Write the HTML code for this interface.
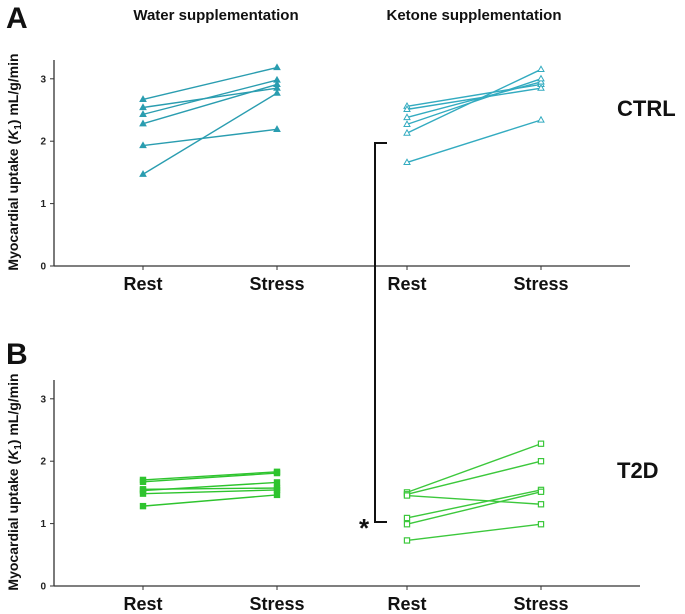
<!DOCTYPE html>
<html><head><meta charset="utf-8"><style>
body{margin:0;background:#fff}
svg{font-family:"Liberation Sans",Arial,sans-serif;display:block}
</style></head><body>
<svg id="c" width="685" height="614"></svg>
<script>
const cats=["Rest","Stress"];
const yTicks=[0,1,2,3];
const ctrlWaterRest=[2.67,2.54,2.43,2.28,1.93,1.47];
const ctrlWaterStress=[3.18,2.85,2.98,2.91,2.19,2.77];
const ctrlKetoneRest=[2.56,2.51,2.38,2.27,2.13,1.66];
const ctrlKetoneStress=[2.91,2.85,2.95,3.00,3.15,2.34];
const t2dWaterRest=[1.70,1.67,1.55,1.53,1.48,1.28];
const t2dWaterStress=[1.83,1.81,1.57,1.66,1.54,1.46];
const t2dKetoneRest=[1.50,1.47,1.45,1.09,0.99,0.73];
const t2dKetoneStress=[2.28,2.00,1.31,1.54,1.51,0.99];

const NS="http://www.w3.org/2000/svg";
const svg=document.getElementById('c');
function mk(t,a,txt){const e=document.createElementNS(NS,t);for(const k in a)e.setAttribute(k,a[k]);if(txt!=null)e.textContent=txt;svg.appendChild(e);return e;}
const xPos={wRest:143,wStress:277,kRest:407,kStress:541};
function yTop(v){return 266-v*62.4;}
function yBot(v){return 586-v*62.4;}

function panel(ys,axTop,axRight,label,lx,ly,titleC){
  let e=mk('line',{x1:54,y1:axTop,x2:54,y2:ys(0),stroke:'#333','stroke-width':1.3});
  
  e=mk('line',{x1:54,y1:ys(0),x2:axRight,y2:ys(0),stroke:'#333','stroke-width':1.3});
  
  yTicks.forEach(t=>{
    e=mk('line',{x1:50,y1:ys(t),x2:54,y2:ys(t),stroke:'#333'});
    
    e=mk('text',{x:46,y:ys(t)+3.5,'text-anchor':'end','font-size':10,'font-weight':'bold',fill:'#222'},t);
    
  });
  [xPos.wRest,xPos.wStress,xPos.kRest,xPos.kStress].forEach((x,i)=>{
    e=mk('line',{x1:x,y1:ys(0),x2:x,y2:ys(0)+4,stroke:'#333'});
    
    e=mk('text',{x:x,y:ys(0)+24,'text-anchor':'middle','font-size':18,'font-weight':'bold',fill:'#111'},cats[i%2]);
    
  });
  e=mk('text',{x:0,y:0,transform:`translate(18,${titleC}) rotate(-90)`,'text-anchor':'middle','font-size':14,'font-weight':'bold',fill:'#111'});
  
  e.innerHTML='Myocardial uptake (<tspan font-style="italic">K</tspan><tspan font-size="10" dy="3">1</tspan><tspan dy="-3">) mL/g/min</tspan>';
  e=mk('text',{x:lx,y:ly,'font-size':22,'font-weight':'bold',fill:'#111'},label);
  
}
function series(ys,rest,stress,x1,x2,color,marker,filled,name){
  rest.forEach((r,i)=>{
    let e=mk('line',{x1:x1,y1:ys(r),x2:x2,y2:ys(stress[i]),stroke:color,'stroke-width':1.4});
    
    [[x1,r],[x2,stress[i]]].forEach(p=>{
      const y=ys(p[1]);
      let m;
      if(marker==='tri') m=mk('polygon',{points:`${p[0]},${y-3.2} ${p[0]-3},${y+2.1} ${p[0]+3},${y+2.1}`,fill:filled?color:'#fff',stroke:color,'stroke-width':1});
      else m=mk('rect',{x:p[0]-2.6,y:y-2.6,width:5.2,height:5.2,fill:filled?color:'#fff',stroke:color,'stroke-width':1.2});
      
    });
  });
}
panel(yTop,60,630,'CTRL',617,116,162);
panel(yBot,380,640,'T2D',617,478,482);
const teal='#2a9db0',green='#2ec42e';
series(yTop,ctrlWaterRest,ctrlWaterStress,xPos.wRest,xPos.wStress,teal,'tri',true,'ctrl-water');
series(yTop,ctrlKetoneRest,ctrlKetoneStress,xPos.kRest,xPos.kStress,'#33abc0','tri',false,'ctrl-ketone');
series(yBot,t2dWaterRest,t2dWaterStress,xPos.wRest,xPos.wStress,green,'sq',true,'t2d-water');
series(yBot,t2dKetoneRest,t2dKetoneStress,xPos.kRest,xPos.kStress,'#3cc83c','sq',false,'t2d-ketone');

let e=mk('path',{d:'M387,143 H375 V522 H387',fill:'none',stroke:'#111','stroke-width':2});

e=mk('text',{x:364,y:537,'text-anchor':'middle','font-size':26,'font-weight':'bold',fill:'#111'},'*');

e=mk('text',{x:6,y:28,'font-size':30,'font-weight':'bold',fill:'#111'},'A');

e=mk('text',{x:6,y:364,'font-size':30,'font-weight':'bold',fill:'#111'},'B');

e=mk('text',{x:216,y:20,'text-anchor':'middle','font-size':15,'font-weight':'bold',fill:'#111'},'Water supplementation');

e=mk('text',{x:474,y:20,'text-anchor':'middle','font-size':15,'font-weight':'bold',fill:'#111'},'Ketone supplementation');

</script>
</body></html>
